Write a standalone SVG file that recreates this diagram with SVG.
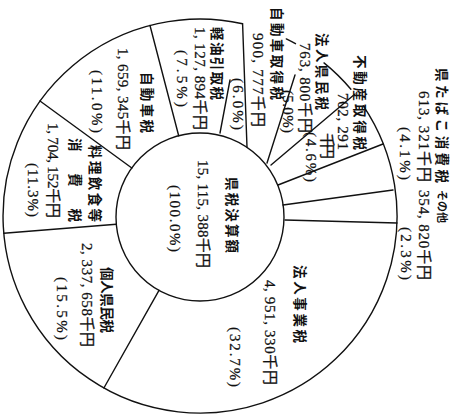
<svg xmlns="http://www.w3.org/2000/svg" width="455" height="417" viewBox="0 0 455 417">
<style>
.ln{stroke:#111;stroke-width:1.4;fill:none;stroke-linecap:round}
text{font-family:"Liberation Serif","Noto Sans CJK JP",serif;font-size:15px;fill:#111;stroke:#111;stroke-width:0.25}
.j{font-family:"Noto Sans CJK JP","Liberation Serif",sans-serif;font-weight:bold;font-size:13.5px;stroke:none}
</style>
<rect width="455" height="417" fill="#fff"/>
<g id="connectors">
<path class="ln" d="M363.3,105.8 A197,197 0 1 1 242.6,23.7"/>
<path class="ln" d="M286.3,38.9 A197,197 0 0 1 295.5,43.7"/>
<path class="ln" d="M324,62.9 A197,197 0 0 1 350.9,89.3"/>
<circle class="ln" cx="200" cy="217" r="84"/>
<line class="ln" x1="159" y1="290.3" x2="103.9" y2="388"/>
<line class="ln" x1="116.3" y1="224.3" x2="3.8" y2="233.2"/>
<line class="ln" x1="131.8" y1="168" x2="40" y2="101"/>
<line class="ln" x1="178.7" y1="135.8" x2="150" y2="25.5"/>
<line class="ln" x1="220" y1="133" x2="230" y2="80"/>
<line class="ln" x1="247" y1="147" x2="242.6" y2="24"/>
<line class="ln" x1="267" y1="163" x2="295" y2="75"/>
<line class="ln" x1="271" y1="165" x2="355" y2="94"/>
<line class="ln" x1="278" y1="185" x2="383" y2="144"/>
<line class="ln" x1="283" y1="205" x2="393" y2="190"/>
<line class="ln" x1="285" y1="220" x2="397" y2="223"/>
</g>
<g id="center">
<text class="j" transform="translate(227,177) rotate(90)" textLength="76" lengthAdjust="spacing">県税決算額</text>
<text transform="translate(198,160) rotate(90)" textLength="108" lengthAdjust="spacing">15, 115, 388千円</text>
<text transform="translate(170,185) rotate(90)" textLength="67" lengthAdjust="spacing">(100.0%)</text>
</g>
<g id="hojin-jigyo">
<text class="j" transform="translate(295,265) rotate(90)" textLength="78" lengthAdjust="spacing">法人事業税</text>
<text transform="translate(265,280) rotate(90)" textLength="105" lengthAdjust="spacing">4, 951, 330千円</text>
<text transform="translate(230,327) rotate(90)" textLength="60" lengthAdjust="spacing">(32.7%)</text>
</g>
<g id="kojin-kenmin">
<text class="j" transform="translate(102,267) rotate(90)" textLength="66" lengthAdjust="spacing">個人県民税</text>
<text transform="translate(82,243) rotate(90)" textLength="104" lengthAdjust="spacing">2, 337, 658千円</text>
<text transform="translate(57,277) rotate(90)" textLength="63" lengthAdjust="spacing">(15.5%)</text>
</g>
<g id="ryori">
<text class="j" transform="translate(90,145) rotate(90)" textLength="77" lengthAdjust="spacing">料理飲食等</text>
<text class="j" transform="translate(70,138) rotate(90)" textLength="84" lengthAdjust="spacing">消　費　税</text>
<text transform="translate(48,123) rotate(90)" textLength="95" lengthAdjust="spacing">1, 704, 152千円</text>
<text transform="translate(28,163) rotate(90)" textLength="54" lengthAdjust="spacing">(11.3%)</text>
</g>
<g id="jidosha">
<text class="j" transform="translate(142,72) rotate(90)" textLength="61" lengthAdjust="spacing">自動車税</text>
<text transform="translate(118,48) rotate(90)" textLength="102" lengthAdjust="spacing">1, 659, 345千円</text>
<text transform="translate(92,70) rotate(90)" textLength="63" lengthAdjust="spacing">(11.0%)</text>
</g>
<g id="keiyu">
<text class="j" transform="translate(212,27) rotate(90)" textLength="73" lengthAdjust="spacing">軽油引取税</text>
<text transform="translate(195,27) rotate(90)" textLength="103" lengthAdjust="spacing">1, 127, 894千円</text>
<text transform="translate(177,50) rotate(90)" textLength="57" lengthAdjust="spacing">(7.5%)</text>
</g>
<g id="jidosha-shutoku">
<text class="j" transform="translate(272,7) rotate(90)" textLength="93" lengthAdjust="spacing">自動車取得税</text>
<text transform="translate(253,33) rotate(90)" textLength="94" lengthAdjust="spacing">900, 777千円</text>
<text transform="translate(233,78) rotate(90)" textLength="52" lengthAdjust="spacing">(6.0%)</text>
</g>
<g id="hojin-kenmin">
<text class="j" transform="translate(317,33) rotate(90)" textLength="77" lengthAdjust="spacing">法人県民税</text>
<text transform="translate(300,43) rotate(90)" textLength="90" lengthAdjust="spacing">763, 800千円</text>
<text transform="translate(283,90) rotate(90)" textLength="43" lengthAdjust="spacing">(5.0%)</text>
</g>
<g id="fudosan">
<text class="j" transform="translate(355,55) rotate(90)" textLength="95" lengthAdjust="spacing">不動産取得税</text>
<text transform="translate(338,93) rotate(90)" textLength="57" lengthAdjust="spacing">702, 291</text>
<text transform="translate(322,133) rotate(90)" textLength="26" lengthAdjust="spacing">千円</text>
<text transform="translate(306,132) rotate(90)" textLength="50" lengthAdjust="spacing">(4.6%)</text>
</g>
<g id="tabako">
<text class="j" transform="translate(437,68) rotate(90)" textLength="115" lengthAdjust="spacing">県たばこ消費税</text>
<text transform="translate(419,91) rotate(90)" textLength="91" lengthAdjust="spacing">613, 321千円</text>
<text transform="translate(400,127) rotate(90)" textLength="53" lengthAdjust="spacing">(4.1%)</text>
</g>
<g id="sonota">
<text class="j" transform="translate(438,190) rotate(90)" style="font-size:11px">その他</text>
<text transform="translate(419,190) rotate(90)" textLength="90" lengthAdjust="spacing">354, 820千円</text>
<text transform="translate(401,227) rotate(90)" textLength="53" lengthAdjust="spacing">(2.3%)</text>
</g>
</svg>
